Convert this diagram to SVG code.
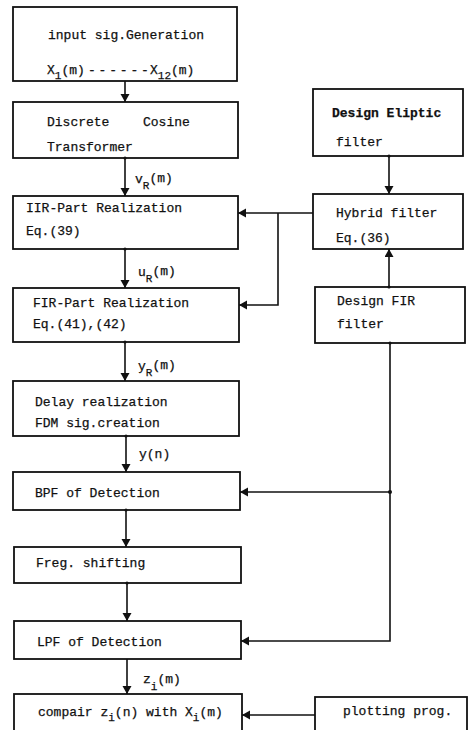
<svg xmlns="http://www.w3.org/2000/svg" width="469" height="730" viewBox="0 0 469 730">
  <style>
    .box { fill: #ffffff; stroke: #111111; stroke-width: 1.8; }
    .t { font-family: "Liberation Mono", "DejaVu Sans Mono", monospace; font-size: 13px; fill: #111111; stroke: #111111; stroke-width: 0.25; }
    .sub { font-size: 11px; }
    .wire { fill: none; stroke: #111111; stroke-width: 1.6; }
    .arr { marker-end: url(#head); }
  </style>
  <defs>
    <marker id="head" markerUnits="userSpaceOnUse" markerWidth="10" markerHeight="10" refX="8" refY="4.5" orient="auto">
      <path d="M0,0 L8,4.5 L0,9 Z" fill="#111111"/>
    </marker>
  </defs>

  <rect width="469" height="730" fill="#ffffff"/>

  <!-- main processing chain -->
  <g id="input-gen">
    <rect class="box" x="13" y="7" width="224" height="74"/>
    <text class="t" x="48" y="39">input sig.Generation</text>
    <text class="t" x="47" y="74">X<tspan class="sub" dy="5">1</tspan><tspan dy="-5">(m)</tspan><tspan x="88" letter-spacing="-2.5">- - - - - -</tspan><tspan x="150">X</tspan><tspan class="sub" dy="5">12</tspan><tspan dy="-5">(m)</tspan></text>
  </g>

  <g id="dct">
    <rect class="box" x="13" y="102" width="225" height="56"/>
    <text class="t" x="47" y="126">Discrete</text>
    <text class="t" x="143" y="126">Cosine</text>
    <text class="t" x="47" y="151">Transformer</text>
  </g>

  <g id="iir">
    <rect class="box" x="13" y="196" width="225" height="53"/>
    <text class="t" x="26" y="212">IIR-Part Realization</text>
    <text class="t" x="26" y="235">Eq.(39)</text>
  </g>

  <g id="fir">
    <rect class="box" x="13" y="288" width="226" height="54"/>
    <text class="t" x="33" y="307">FIR-Part Realization</text>
    <text class="t" x="33" y="328">Eq.(41),(42)</text>
  </g>

  <g id="delay">
    <rect class="box" x="13" y="381" width="226" height="55"/>
    <text class="t" x="35" y="406">Delay realization</text>
    <text class="t" x="35" y="427">FDM sig.creation</text>
  </g>

  <g id="bpf">
    <rect class="box" x="13" y="472" width="227" height="38"/>
    <text class="t" x="35" y="497">BPF of Detection</text>
  </g>

  <g id="shift">
    <rect class="box" x="14" y="547" width="227" height="36"/>
    <text class="t" x="36" y="567">Freg. shifting</text>
  </g>

  <g id="lpf">
    <rect class="box" x="14" y="621" width="227" height="38"/>
    <text class="t" x="37" y="646">LPF of Detection</text>
  </g>

  <g id="compare">
    <rect class="box" x="14" y="694" width="228" height="45"/>
    <text class="t" x="38" y="716">compair z<tspan class="sub" dy="5">i</tspan><tspan dy="-5">(n) with X</tspan><tspan class="sub" dy="5">i</tspan><tspan dy="-5">(m)</tspan></text>
  </g>

  <!-- filter design column -->
  <g id="design-elliptic">
    <rect class="box" x="313" y="89" width="150" height="67"/>
    <text class="t" x="332" y="117" font-size="14" font-weight="bold">Design Eliptic</text>
    <text class="t" x="336" y="146">filter</text>
  </g>

  <g id="hybrid">
    <rect class="box" x="313" y="194" width="150" height="55"/>
    <text class="t" x="336" y="217">Hybrid filter</text>
    <text class="t" x="336" y="242">Eq.(36)</text>
  </g>

  <g id="design-fir">
    <rect class="box" x="315" y="287" width="150" height="56"/>
    <text class="t" x="337" y="305">Design FIR</text>
    <text class="t" x="337" y="328">filter</text>
  </g>

  <g id="plotting">
    <rect class="box" x="315" y="697" width="152" height="45"/>
    <text class="t" x="343" y="715">plotting prog.</text>
  </g>

  <!-- connectors -->
  <g id="connectors">
    <path class="wire arr" d="M125,81 V102"/>
    <path class="wire arr" d="M125,158 V196"/>
    <path class="wire arr" d="M125,249 V288"/>
    <path class="wire arr" d="M125,342 V381"/>
    <path class="wire arr" d="M126,436 V472"/>
    <path class="wire arr" d="M126,510 V547"/>
    <path class="wire arr" d="M127,583 V621"/>
    <path class="wire arr" d="M127,659 V694"/>

    <path class="wire arr" d="M389,156 V194"/>
    <path class="wire arr" d="M313,213 H238"/>
    <path class="wire arr" d="M278,213 V305 H239"/>
    <path class="wire arr" d="M389,287 V249"/>
    <path class="wire arr" d="M390,343 V641 H241"/>
    <path class="wire arr" d="M390,492 H240"/>
    <path class="wire arr" d="M315,715 H242"/>

    <g fill="#111111">
      <circle cx="125" cy="158" r="1.6"/>
      <circle cx="125" cy="249" r="1.6"/>
      <circle cx="125" cy="342" r="1.6"/>
      <circle cx="126" cy="436" r="1.6"/>
      <circle cx="126" cy="510" r="1.6"/>
      <circle cx="127" cy="583" r="1.6"/>
      <circle cx="389" cy="156" r="1.6"/>
      <circle cx="389" cy="287" r="1.6"/>
      <circle cx="390" cy="343" r="1.6"/>
      <circle cx="390" cy="492" r="2"/>
    </g>

    <!-- signal labels -->
    <text class="t" x="135" y="183">v<tspan class="sub" dy="6">R</tspan><tspan dy="-7">(m)</tspan></text>
    <text class="t" x="138" y="276">u<tspan class="sub" dy="6">R</tspan><tspan dy="-7">(m)</tspan></text>
    <text class="t" x="138" y="370">y<tspan class="sub" dy="6">R</tspan><tspan dy="-7">(m)</tspan></text>
    <text class="t" x="139" y="458">y(n)</text>
    <text class="t" x="143" y="683">z<tspan class="sub" dy="7">i</tspan><tspan dy="-7">(m)</tspan></text>
  </g>
</svg>
